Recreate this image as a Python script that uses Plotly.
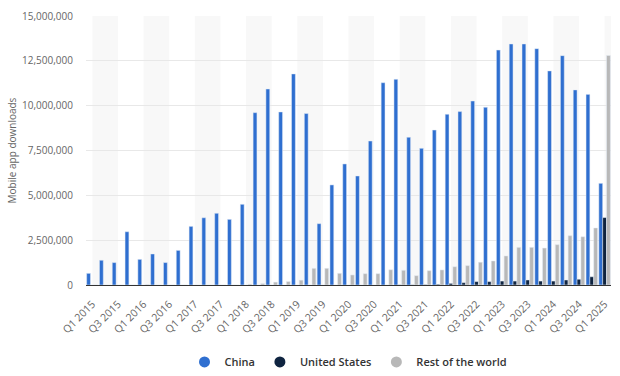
import plotly.graph_objects as go

quarters = [f"Q{q} {y}" for y in range(2015, 2025) for q in range(1, 5)] + ["Q1 2025"]

china = [650000, 1380000, 1250000, 2970000,
         1430000, 1730000, 1250000, 1930000,
         3270000, 3750000, 4000000, 3660000,
         4500000, 9610000, 10930000, 9650000,
         11770000, 9560000, 3420000, 5580000,
         6750000, 6080000, 8030000, 11280000,
         11470000, 8240000, 7620000, 8640000,
         9520000, 9670000, 10260000, 9910000,
         13100000, 13440000, 13440000, 13180000,
         11940000, 12790000, 10880000, 10630000,
         5670000]

united_states = [0, 0, 0, 0,
                 0, 0, 0, 0,
                 0, 0, 0, 0,
                 0, 0, 0, 0,
                 0, 0, 0, 0,
                 0, 0, 0, 0,
                 10000, 10000, 20000, 40000,
                 90000, 130000, 190000, 190000,
                 220000, 220000, 280000, 220000,
                 220000, 280000, 320000, 460000,
                 3760000]

rest_of_world = [0, 0, 0, 0,
                 30000, 0, 0, 0,
                 0, 0, 0, 0,
                 50000, 80000, 160000, 190000,
                 270000, 930000, 930000, 650000,
                 560000, 630000, 630000, 850000,
                 820000, 520000, 800000, 840000,
                 1020000, 1080000, 1270000, 1340000,
                 1620000, 2100000, 2100000, 2060000,
                 2250000, 2750000, 2690000, 3180000,
                 12800000]

series_names = ["China", "United States", "Rest of the world"]
series_colors = ["#2f6fd0", "#0f2440", "#b8b8b8"]

y_ticks = [0, 2500000, 5000000, 7500000, 10000000, 12500000, 15000000]
x_ticks = quarters[::2]

idx = list(range(len(quarters)))

fig = go.Figure()
for vals, name, col in zip([china, united_states, rest_of_world], series_names, series_colors):
    fig.add_trace(go.Bar(x=idx, y=vals, name=name, marker_color=col, showlegend=False))
for name, col in zip(series_names, series_colors):
    fig.add_trace(go.Scatter(x=[None], y=[None], mode="markers", name=name,
                             marker=dict(symbol="circle", size=11, color=col)))

shapes = []
for k in range(0, len(quarters), 4):
    shapes.append(dict(type="rect", xref="x", yref="paper", x0=k, x1=min(k + 2, len(quarters) - 0.5),
                       y0=0, y1=1, fillcolor="#f8f8f8", line=dict(width=0), layer="below"))

fig.update_layout(
    width=620, height=376,
    margin=dict(l=86, r=9, t=16, b=91, autoexpand=False),
    paper_bgcolor="white", plot_bgcolor="white",
    font=dict(family="Open Sans, sans-serif", color="#666666", size=10),
    barmode="group", bargap=0.1, bargroupgap=0,
    shapes=shapes,
    showlegend=True,
    legend=dict(orientation="h", x=0.5, xanchor="center", y=-0.286, yanchor="middle",
                font=dict(size=11, color="#333333", weight=600),
                traceorder="normal"),
)
fig.update_xaxes(
    range=[-0.5, len(quarters) - 0.5], automargin=False,
    tickmode="array", tickvals=idx[::2], ticktext=x_ticks,
    tickangle=-45, showgrid=False, zeroline=False,
    showline=True, linecolor="#333333", linewidth=1,
    tickfont=dict(size=10.5, color="#666666"),
    ticklabelstandoff=8,
)
fig.update_yaxes(
    range=[0, 15000000], automargin=False,
    tickmode="array", tickvals=y_ticks, tickformat=",",
    showgrid=True, gridcolor="#e8e8e8", zeroline=False,
    tickfont=dict(size=10, color="#666666"),
    ticklabelstandoff=12,
    title=dict(text="Mobile app downloads", font=dict(size=10, color="#666666"), standoff=3),
)

fig.write_html("out.html", config={"displayModeBar": False},
               post_script="document.body.style.margin='0';document.body.style.overflow='hidden';")
